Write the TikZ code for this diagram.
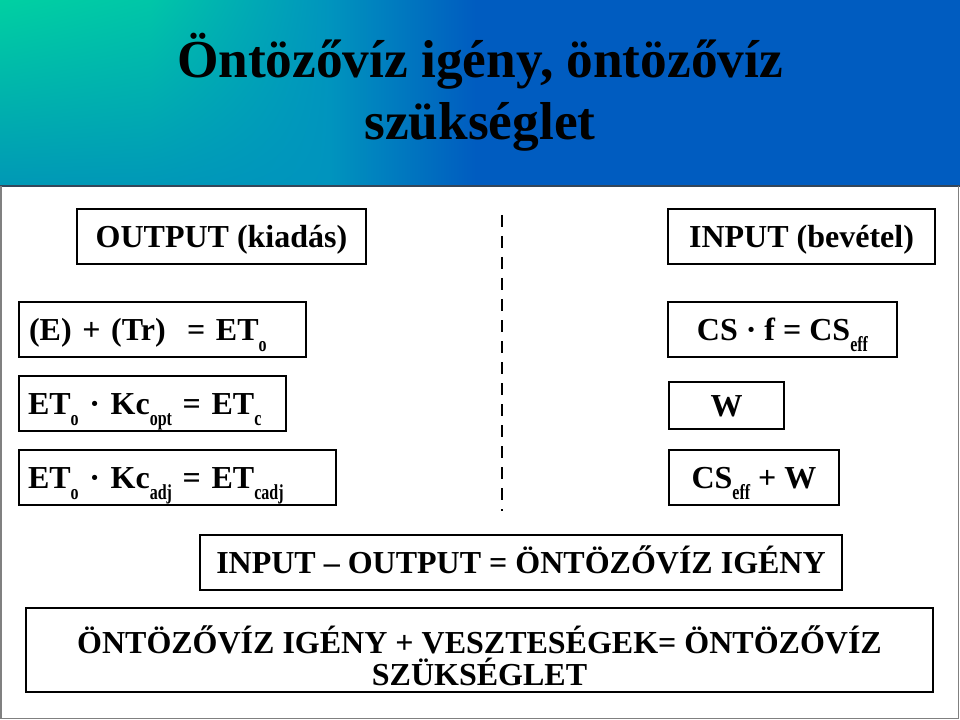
\documentclass[tikz,border=0pt]{standalone}
\usepackage{fontspec}
\setmainfont{Liberation Serif}
\usetikzlibrary{shadings}
\definecolor{hdA}{HTML}{00D0A2}
\definecolor{hdB}{HTML}{0098B6}
\definecolor{hdF}{HTML}{00C6A8}
\definecolor{hdG}{HTML}{0098B8}
\definecolor{hdH}{HTML}{0094BE}
\definecolor{hdE}{HTML}{005CC0}
\definecolor{hdline}{HTML}{34465A}
\definecolor{frame}{HTML}{808080}
\newcommand\sbs[1]{\raisebox{-8.5pt}{\scalebox{0.75}[1]{\fontsize{16}{16}\selectfont #1}}}
\begin{document}
\begin{tikzpicture}[x=0.75pt,y=-0.75pt,
  box/.style={draw=black, line width=0.9pt, inner sep=0pt,
    text height=16pt, text depth=0pt,
    font=\bfseries\fontsize{24}{24}\selectfont},
  lbox/.style={box, align=left},
  titlefont/.style={font=\bfseries\fontsize{40}{46}\selectfont, inner sep=0pt}]
\useasboundingbox (0,0) rectangle (960,720);
\fill[white] (0,0) rectangle (960,720);
% header
\shade[upper left=hdA, lower left=hdB, upper right=hdF, lower right=hdG] (0,0) rectangle (150.5,186);
\shade[upper left=hdF, lower left=hdG, upper right=hdH, lower right=hdH] (150,0) rectangle (330.5,186);
\shade[left color=hdH, right color=hdE] (330,0) rectangle (475.5,186);
\fill[hdE] (475,0) rectangle (960,186);
\draw[hdline, line width=1.5pt] (0,186) -- (960,186);
\draw[frame, line width=1.1pt] (1,186) -- (1,718.5) -- (958.5,718.5) -- (958.5,186);
% title
\node[titlefont, anchor=base] (t1) at (480,78) {Öntözővíz igény, öntözővíz};
\node[titlefont, anchor=base] (t2) at (480,140) {szükséglet};
% headings
\node[box, minimum width=289*0.75pt, minimum height=55*0.75pt] (out) at (221.5,236.5) {OUTPUT (kiadás)};
\node[box, minimum width=267*0.75pt, minimum height=55*0.75pt] (inp) at (801.5,236.5) {INPUT (bevétel)};
% left formulas
\node[lbox, text width=267*0.75pt, inner xsep=10*0.75pt, minimum height=55*0.75pt] (e1) at (162.5,329.5)
  {(E) + (Tr)~ = ET\sbs{o}};
\node[lbox, text width=249*0.75pt, inner xsep=9*0.75pt, minimum height=55*0.75pt] (e2) at (152.5,403.5)
  {ET\sbs{o} · Kc\sbs{opt} = ET\sbs{c}};
\node[lbox, text width=299*0.75pt, inner xsep=9*0.75pt, minimum height=55*0.75pt] (e3) at (177.5,477.5)
  {ET\sbs{o} · Kc\sbs{adj} = ET\sbs{cadj}};
% right formulas
\node[box, minimum width=229*0.75pt, minimum height=55*0.75pt] (c1) at (782.5,329.5) {CS · f = CS\sbs{eff}};
\node[box, minimum width=115*0.75pt, minimum height=47*0.75pt] (w) at (726.5,405.5) {W};
\node[box, minimum width=170*0.75pt, minimum height=55*0.75pt] (c3) at (754,477.5) {CS\sbs{eff} + W};
% dashed divider
\coordinate (dtop) at (502,215);
\coordinate (dbot) at (502,511);
\draw[black, line width=2.2pt, dash pattern=on 9pt off 6.75pt] (dtop) -- (dbot);
% bottom
\node[box, minimum width=642*0.75pt, minimum height=55*0.75pt] (io) at (521,562.5)
  {INPUT -- OUTPUT = ÖNTÖZŐVÍZ IGÉNY};
\node[box, align=center, text height=52.5pt, text depth=0pt, minimum width=907*0.75pt, minimum height=84*0.75pt] (fin) at (479.5,650)
  {ÖNTÖZŐVÍZ IGÉNY + VESZTESÉGEK= ÖNTÖZŐVÍZ\\SZÜKSÉGLET};
\end{tikzpicture}
\end{document}
